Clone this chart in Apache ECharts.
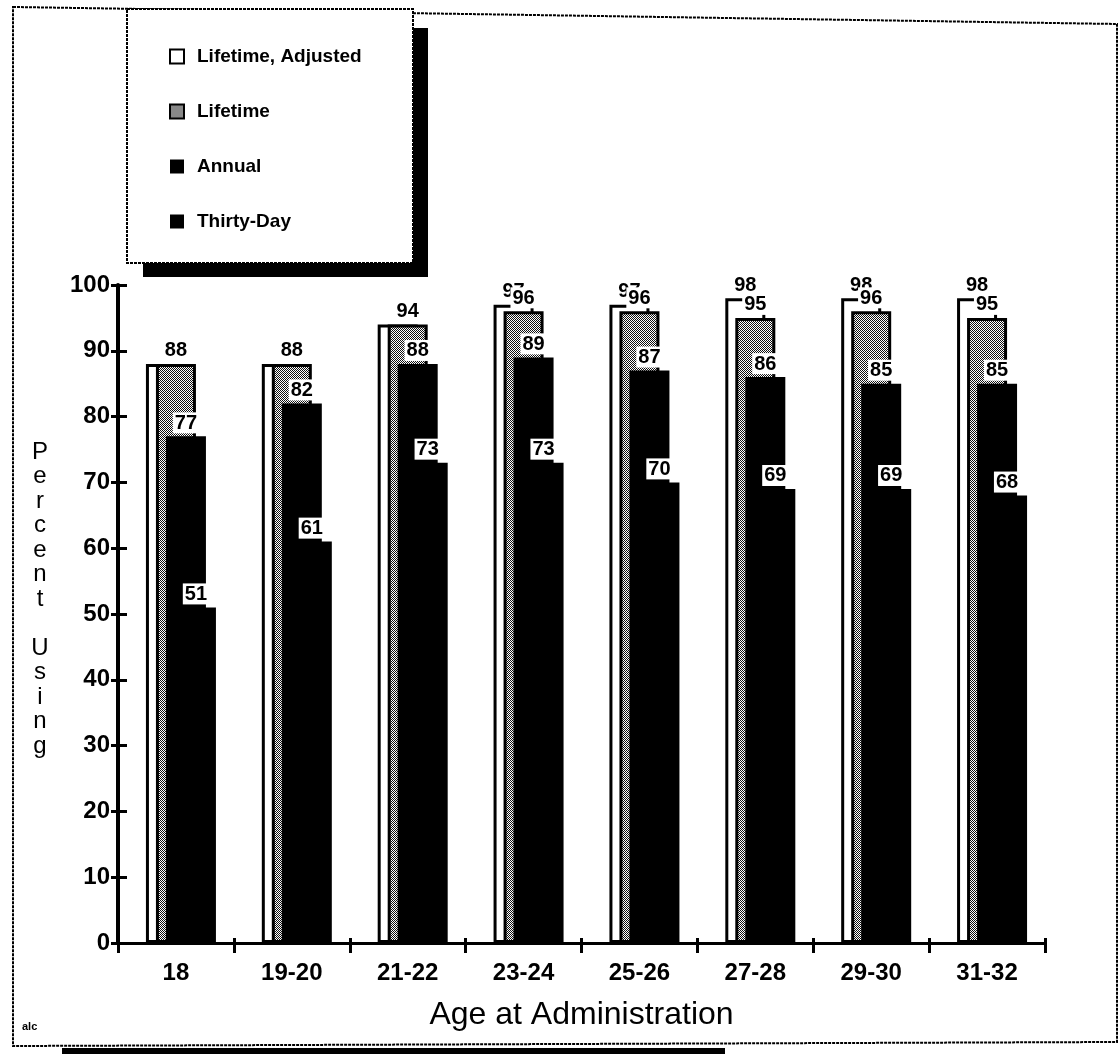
<!DOCTYPE html>
<html>
<head>
<meta charset="utf-8">
<script src="https://cdn.jsdelivr.net/npm/echarts@6/dist/echarts.min.js"></script>
<style>
  html, body { margin: 0; padding: 0; background: #fff; }
  #chart { width: 1120px; height: 1054px; }
</style>
</head>
<body>
<div id="chart"></div>
<script>
const categories = ['18', '19-20', '21-22', '23-24', '25-26', '27-28', '29-30', '31-32'];
const lifetimeAdjusted = [88, 88, 94, 97, 97, 98, 98, 98];
const lifetime = [88, 88, 94, 96, 96, 95, 96, 95];
const annual = [77, 82, 88, 89, 87, 86, 85, 85];
const thirtyDay = [51, 61, 73, 73, 70, 69, 69, 68];
const yTicks = { min: 0, max: 100, interval: 10 };

// stipple pattern for "Lifetime"
const pat = document.createElement('canvas');
pat.width = 4; pat.height = 4;
const pctx = pat.getContext('2d');
pctx.fillStyle = '#ffffff';
pctx.fillRect(0, 0, 4, 4);
pctx.fillStyle = '#111111';
[[0,0],[2,0],[1,1],[3,1],[0,2],[2,2],[1,3],[3,3]].forEach(p => pctx.fillRect(p[0], p[1], 1, 1));

const FONT = '"Liberation Sans", Arial, Helvetica, sans-serif';

const valueLabel = {
  show: true,
  position: 'top',
  distance: 3,
  color: '#000',
  fontFamily: FONT,
  fontWeight: 'bold',
  fontSize: 20,
  backgroundColor: '#fff',
  padding: [1, 2, 0, 2]
};

const chart = echarts.init(document.getElementById('chart'), null, { renderer: 'canvas' });

const barCommon = { type: 'bar', barWidth: 40, barGap: '-75%' };

const option = {
  backgroundColor: '#fff',
  animation: false,
  grid: { left: 118, right: 75, top: 285, bottom: 111 },
  legend: {
    orient: 'vertical',
    left: 169,
    top: 47,
    icon: 'rect',
    itemWidth: 14,
    itemHeight: 14,
    itemGap: 36,
    padding: 0,
    selectedMode: false,
    textStyle: { fontFamily: FONT, fontSize: 19, fontWeight: 'bold', color: '#000', padding: [0, 0, 0, 8] },
    data: ['Lifetime, Adjusted', 'Lifetime', 'Annual', 'Thirty-Day']
  },
  xAxis: [
    {
      type: 'category',
      data: categories,
      boundaryGap: true,
      axisLine: { show: true, lineStyle: { color: '#000', width: 3 } },
      axisTick: { show: true, inside: false, length: 10, alignWithLabel: false, lineStyle: { color: '#000', width: 3 } },
      axisLabel: { color: '#000', fontFamily: FONT, fontSize: 24, fontWeight: 'bold', margin: 18 },
      name: 'Age at Administration',
      nameLocation: 'middle',
      nameGap: 56,
      nameTextStyle: { color: '#000', fontFamily: FONT, fontSize: 32 }
    },
    {
      type: 'category',
      data: categories,
      position: 'bottom',
      boundaryGap: true,
      axisLine: { show: false },
      axisTick: { show: true, inside: true, length: 5, lineStyle: { color: '#000', width: 3 } },
      axisLabel: { show: false }
    }
  ],
  yAxis: [
    {
      type: 'value',
      min: yTicks.min,
      max: yTicks.max,
      interval: yTicks.interval,
      splitLine: { show: false },
      axisLine: { show: true, lineStyle: { color: '#000', width: 4 } },
      axisTick: { show: true, inside: false, length: 7, lineStyle: { color: '#000', width: 3 } },
      axisLabel: { color: '#000', fontFamily: FONT, fontSize: 24, fontWeight: 'bold', margin: 8 }
    },
    {
      type: 'value',
      position: 'left',
      min: yTicks.min,
      max: yTicks.max,
      interval: yTicks.interval,
      splitLine: { show: false },
      axisLine: { show: false },
      axisTick: { show: true, inside: true, length: 9, lineStyle: { color: '#000', width: 3 } },
      axisLabel: { show: false }
    }
  ],
  series: [
    // empty spacer slot (no data) so the bar cluster sits slightly right of band centre, as in the original
    Object.assign({ name: '_spacer', data: [], silent: true }, barCommon),
    Object.assign({
      name: 'Lifetime, Adjusted',
      data: lifetimeAdjusted.map((v, i) => ({ value: v, label: { show: v !== lifetime[i] } })),
      itemStyle: { color: '#ffffff', borderColor: '#000', borderWidth: 3 },
      label: valueLabel
    }, barCommon),
    Object.assign({
      name: 'Lifetime',
      data: lifetime,
      itemStyle: { color: { image: pat, repeat: 'repeat' }, borderColor: '#000', borderWidth: 3 },
      label: valueLabel
    }, barCommon),
    Object.assign({
      name: 'Annual',
      data: annual,
      itemStyle: { color: '#000' },
      label: valueLabel
    }, barCommon),
    Object.assign({
      name: 'Thirty-Day',
      data: thirtyDay,
      itemStyle: { color: '#000' },
      label: valueLabel
    }, barCommon)
  ],
  graphic: [
    // outer frame
    { type: 'polygon', z: 0, silent: true,
      shape: { points: [[13, 7], [1117, 24], [1117, 1042], [13, 1046]] },
      style: { fill: null, stroke: '#000', lineWidth: 2, lineDash: [3, 1] } },
    // bottom shadow of frame
    { type: 'rect', z: 0, silent: true, shape: { x: 62, y: 1048, width: 663, height: 6 }, style: { fill: '#000' } },
    // legend shadow
    { type: 'rect', z: 0, silent: true, shape: { x: 143, y: 28, width: 285, height: 249 }, style: { fill: '#000' } },
    // legend box
    { type: 'rect', z: 1, silent: true, shape: { x: 127, y: 9, width: 286, height: 254 },
      style: { fill: '#fff', stroke: '#000', lineWidth: 2, lineDash: [3, 1] } },
    // y-axis title, one letter per line
    { type: 'text', z: 5, silent: true, left: 30, top: 440,
      style: { text: 'P\ne\nr\nc\ne\nn\nt\n\nU\ns\ni\nn\ng', fill: '#000', font: '24px ' + FONT,
               lineHeight: 24.5, textAlign: 'center', width: 20 } },
    { type: 'text', z: 5, silent: true, left: 22, top: 1021,
      style: { text: 'alc', fill: '#000', font: 'bold 11px ' + FONT } }
  ]
};

chart.setOption(option);
</script>
</body>
</html>
